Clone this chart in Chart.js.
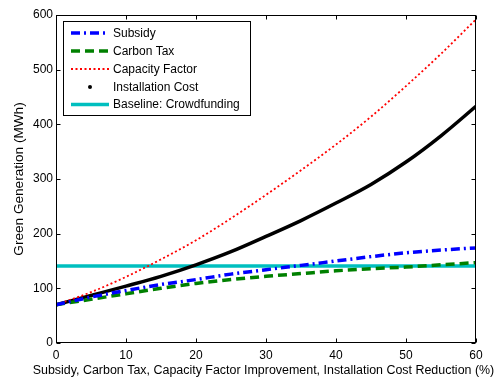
<!DOCTYPE html>
<html><head><meta charset="utf-8">
<script src="https://cdn.jsdelivr.net/npm/chart.js@4/dist/chart.umd.min.js"></script>
<style>html,body{margin:0;padding:0;background:#fff;}#wrap{width:498px;height:380px;}</style>
</head><body><div id="wrap"><canvas id="c" width="498" height="380"></canvas></div>
<script>
// ---- data ----
const xValues = [0, 5, 10, 15, 20, 25, 30, 35, 40, 45, 50, 55, 60];
const subsidy = [70, 84, 96, 107, 116, 126, 134, 142, 150, 158, 165, 170, 174];
const carbonTax = [70, 80, 90, 100, 109, 116, 122, 127, 132, 136, 139, 143, 147];
const capacityFactor = [70, 93, 121, 153, 188, 228, 271, 316, 363, 414, 470, 529, 592];
const installationCost = [70, 87, 104, 122, 143, 167, 195, 224, 256, 290, 331, 379, 433];
const baselineX = [0, 60];
const baselineY = [141, 141];
const seriesLabels = ['Subsidy', 'Carbon Tax', 'Capacity Factor', 'Installation Cost', 'Baseline: Crowdfunding'];
const xTickValues = [0, 10, 20, 30, 40, 50, 60];
const yTickValues = [0, 100, 200, 300, 400, 500, 600];
const xTitle = 'Subsidy, Carbon Tax, Capacity Factor Improvement, Installation Cost Reduction (%)';
const yTitle = 'Green Generation (MWh)';

const FONT = "'Liberation Sans', Arial, sans-serif";
const pts = (xs, ys) => xs.map((x, i) => ({x: x, y: ys[i]}));

const framePlugin = {
  id: 'frame',
  afterDatasetsDraw(chart) {
    const {ctx, chartArea: a, scales: {x, y}} = chart;
    ctx.save();
    ctx.strokeStyle = '#000';
    ctx.lineWidth = 1;
    const L = Math.round(a.left) + 0.5, R = Math.round(a.right) - 0.5;
    const T = Math.round(a.top) + 0.5, B = Math.round(a.bottom) - 0.5;
    ctx.strokeRect(L, T, R - L, B - T);
    const tl = 4;
    ctx.beginPath();
    xTickValues.forEach(v => {
      const px = Math.round(x.getPixelForValue(v)) + 0.5;
      ctx.moveTo(px, B); ctx.lineTo(px, B - tl);
      ctx.moveTo(px, T); ctx.lineTo(px, T + tl);
    });
    yTickValues.forEach(v => {
      const py = Math.round(y.getPixelForValue(v)) + 0.5;
      ctx.moveTo(L, py); ctx.lineTo(L + tl, py);
      ctx.moveTo(R, py); ctx.lineTo(R - tl, py);
    });
    ctx.stroke();
    ctx.restore();
  },
  afterDraw(chart) {
    const {ctx, chartArea: a} = chart;
    // x-axis title (drawn without width compression)
    ctx.save();
    ctx.font = '12px ' + FONT;
    const w12 = ctx.measureText(xTitle).width;
    const size = Math.min(13, 12 * 462 / w12);
    ctx.font = size.toFixed(2) + 'px ' + FONT;
    ctx.fillStyle = '#000';
    ctx.textAlign = 'center';
    ctx.textBaseline = 'middle';
    ctx.fillText(xTitle, 263.5, 371);
    ctx.restore();
    // legend
    const box = {l: 63.5, t: 21.5, r: 250.5, b: 115.5};
    ctx.save();
    ctx.fillStyle = '#fff';
    ctx.fillRect(box.l, box.t, box.r - box.l, box.b - box.t);
    ctx.strokeStyle = '#000';
    ctx.lineWidth = 1;
    ctx.strokeRect(box.l, box.t, box.r - box.l, box.b - box.t);
    const rows = [33, 51, 69, 87, 104.5];
    ctx.font = '12px ' + FONT;
    ctx.textBaseline = 'middle';
    chart.data.datasets.forEach((ds, i) => {
      const yy = rows[i];
      ctx.save();
      if (ds.showLegendLine !== false) {
        ctx.strokeStyle = ds.borderColor;
        ctx.lineWidth = ds.borderWidth;
        ctx.setLineDash(ds.borderDash || []);
        ctx.beginPath();
        ctx.moveTo(71, yy); ctx.lineTo(109, yy);
        ctx.stroke();
      } else {
        ctx.fillStyle = '#000';
        ctx.beginPath();
        ctx.arc(90, yy, 2, 0, Math.PI * 2);
        ctx.fill();
      }
      ctx.restore();
      ctx.fillStyle = '#000';
      ctx.fillText(ds.label, 113, yy + 0.5);
    });
    ctx.restore();
  }
};

new Chart(document.getElementById('c'), {
  type: 'line',
  data: {
    datasets: [
      {label: seriesLabels[0], data: pts(xValues, subsidy), borderColor: '#0000ff', borderWidth: 3.5,
       borderDash: [9, 4, 2, 4], pointRadius: 0, cubicInterpolationMode: 'monotone'},
      {label: seriesLabels[1], data: pts(xValues, carbonTax), borderColor: '#008000', borderWidth: 3.5,
       borderDash: [9, 5], pointRadius: 0, cubicInterpolationMode: 'monotone'},
      {label: seriesLabels[2], data: pts(xValues, capacityFactor), borderColor: '#ff0000', borderWidth: 1.8,
       borderDash: [2, 2.5], pointRadius: 0, cubicInterpolationMode: 'monotone'},
      {label: seriesLabels[3], data: pts(xValues, installationCost), borderColor: '#000000', borderWidth: 3.5,
       pointRadius: 0, cubicInterpolationMode: 'monotone', showLegendLine: false},
      {label: seriesLabels[4], data: pts(baselineX, baselineY), borderColor: '#00bfbf', borderWidth: 3.5,
       pointRadius: 0}
    ]
  },
  options: {
    responsive: false,
    animation: false,
    devicePixelRatio: 1,
    layout: {padding: {top: 15, right: 22, left: 0, bottom: 0}},
    plugins: {legend: {display: false}, tooltip: {enabled: false}},
    scales: {
      x: {
        type: 'linear', min: 0, max: 60,
        grid: {display: false, drawTicks: false},
        border: {display: false},
        afterBuildTicks: s => { s.ticks = xTickValues.map(v => ({value: v})); },
        ticks: {font: {family: FONT, size: 12}, color: '#000', padding: 5, maxRotation: 0},
        title: {display: false},
        afterFit: s => { s.height = 37; }
      },
      y: {
        type: 'linear', min: 0, max: 600,
        grid: {display: false, drawTicks: false},
        border: {display: false},
        afterBuildTicks: s => { s.ticks = yTickValues.map(v => ({value: v})); },
        ticks: {font: {family: FONT, size: 12}, color: '#000', padding: 3},
        title: {display: true, text: yTitle, font: {family: FONT, size: 13.6}, color: '#000', padding: {top: 11, bottom: 0}},
        afterFit: s => { s.width = 56; }
      }
    }
  },
  plugins: [framePlugin]
});
</script></body></html>
